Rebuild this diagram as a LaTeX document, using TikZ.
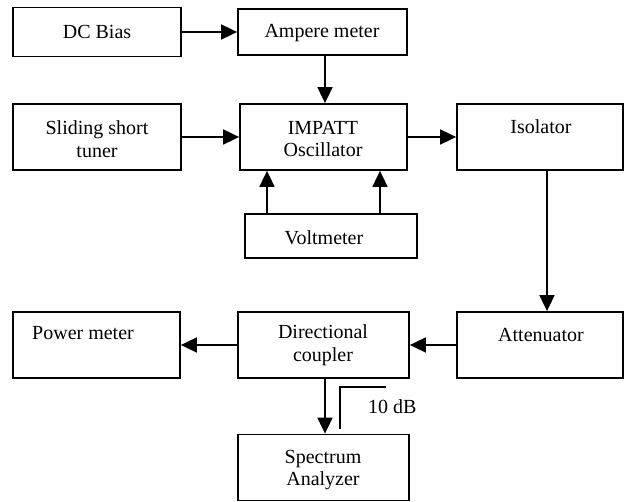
\documentclass[tikz,border=0pt]{standalone}
\usepackage{fontspec}
\setmainfont{Liberation Serif}
\usetikzlibrary{arrows.meta}
\begin{document}
\begin{tikzpicture}[x=1pt,y=-1pt,
  box/.style={draw,line width=1.8pt,inner sep=0pt,minimum width=#1},
  lbl/.style={inner sep=0pt,align=center,font=\fontsize{20}{22.5}\selectfont},
  arr/.style={line width=1.8pt,-{Triangle[length=16pt,width=15pt]}},
  plain/.style={line width=1.5pt}]
\useasboundingbox (0,0) rectangle (625,502);

% blocks
\node[box=168,minimum height=49] (dc)   at (97,32)    {};
\node[box=169,minimum height=46] (amp)  at (322.5,32) {};
\node[box=168,minimum height=66] (sst)  at (97,137)   {};
\node[box=167,minimum height=66] (imp)  at (323.5,137){};
\node[box=166,minimum height=66] (iso)  at (540,137)  {};
\node[box=172,minimum height=44] (volt) at (331,236)  {};
\node[box=167,minimum height=66] (pm)   at (96.5,345) {};
\node[box=171,minimum height=66] (dcp)  at (323.5,345){};
\node[box=166,minimum height=66] (att)  at (540,345)  {};
\node[box=171,minimum height=66] (spa)  at (323.5,467.5){};

% block texts
\node[lbl] (dct)   at (97,32)   {DC Bias};
\node[lbl] (ampt)  at (322,33)  {Ampere meter};
\node[lbl] (sstt)  at (97,139)  {Sliding short\\tuner};
\node[lbl] (impt)  at (323,139) {IMPATT\\Oscillator};
\node[lbl] (isot)  at (541,127) {Isolator};
\node[lbl] (voltt) at (324,238) {Voltmeter};
\node[lbl,anchor=west] (pmt) at (32,333) {Power meter};
\node[lbl] (dcpt)  at (323,345) {Directional\\coupler};
\node[lbl] (attt)  at (541,335) {Attenuator};
\node[lbl] (spat)  at (323,470) {Spectrum\\Analyzer};

% guide coordinates for the vertical connectors
\coordinate (xa) at (325,0);
\coordinate (xv1) at (267,0);
\coordinate (xv2) at (380,0);
\coordinate (xi) at (547,0);

% connectors
\draw[arr] (dc.east) -- (dc.east -| amp.west);
\draw[arr] (amp.south -| xa) -- (imp.north -| xa);
\draw[arr] (sst.east) -- (sst.east -| imp.west);
\draw[arr] (imp.east) -- (imp.east -| iso.west);
\draw[arr] (volt.north -| xv1) -- (imp.south -| xv1);
\draw[arr] (volt.north -| xv2) -- (imp.south -| xv2);
\draw[arr] (iso.south -| xi) -- (att.north -| xi);
\draw[arr] (att.west) -- (att.west -| dcp.east);
\draw[arr] (dcp.west) -- (dcp.west -| pm.east);
\draw[arr] (dcp.south -| xa) -- (spa.north -| xa);

% coupling mark
\coordinate (cb) at (340,429);
\coordinate (ct) at (340,387);
\coordinate (ce) at (386,387);
\draw[plain] (cb) -- (ct) -- (ce);
\node[lbl,anchor=west] (db) at (368,407) {10 dB};
\end{tikzpicture}
\end{document}
